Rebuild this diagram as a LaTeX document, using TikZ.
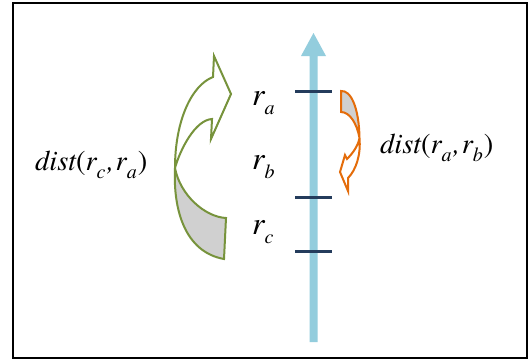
\documentclass[tikz,border=0pt]{standalone}
\usepackage{fontspec}
\newfontfamily\timesfam{texgyretermes}[Extension=.otf, UprightFont=*-regular, ItalicFont=*-italic, BoldFont=*-bold, BoldItalicFont=*-bolditalic]
\definecolor{axisblue}{HTML}{93CDDD}
\definecolor{tickblue}{HTML}{243C5C}
\definecolor{olivegreen}{HTML}{77933C}
\definecolor{darkorange}{HTML}{E46C0A}
\definecolor{greyfill}{HTML}{D0D0D0}
\newcommand\mysub[1]{\raisebox{-0.3em}{\fontsize{20}{20}\selectfont\timesfam\itshape #1}}
\begin{document}
\begin{tikzpicture}[x=1pt,y=-1pt,
  lbl/.style={inner sep=0pt, anchor=base west, font=\timesfam\fontsize{32}{32}\selectfont\itshape},
  distlbl/.style={inner sep=0pt, anchor=base west, font=\timesfam\fontsize{28.5}{28.5}\selectfont\itshape},
  tickline/.style={draw=tickblue, line width=3pt},
  greenarrow/.style={draw=olivegreen, line width=2pt, line join=miter},
  orangearrow/.style={draw=darkorange, line width=2pt, line join=miter}]
\useasboundingbox (0,0) rectangle (531,362);
\fill[white] (0,0) rectangle (531,362);
\draw[line width=2pt] (13,3) rectangle (527,358);
% axis arrow
\fill[axisblue] (309.5,342) -- (309.5,56) -- (301,56) -- (313.5,33) -- (326,56) -- (317.5,56) -- (317.5,342) -- cycle;
% ticks
\draw[tickline] (295,91) -- (332,91);
\draw[tickline] (295,197) -- (332,197);
\draw[tickline] (295,251) -- (332,251);
% labels
\node[lbl] (ra) at (252,105) {r\mysub{a}};
\node[lbl] (rb) at (252,169) {r\mysub{b}};
\node[lbl] (rc) at (252,234) {r\mysub{c}};
\node[distlbl] (dca) at (35,170) {dist{\upshape(}r\mysub{c}\kern1.5pt,\kern1.5pt r\mysub{a}\kern1pt{\upshape)}};
\node[distlbl] (dab) at (380,153) {dist{\upshape(}r\mysub{a}\kern1.5pt,\kern1.5pt r\mysub{b}\kern1pt{\upshape)}};
% green curved arrow
\fill[fill=greyfill] (175,168) .. controls (173,210) and (185,252) .. (224,259) -- (226,218) .. controls (205,217) and (180,195) .. (175,168) -- cycle;
\draw[greenarrow] (224,259) .. controls (185,252) and (173,210) .. (175,168)
  .. controls (175,120) and (192,85) .. (213,77) -- (214,56) -- (231,94) -- (211,139) -- (212,119)
  .. controls (195,120) and (180,150) .. (175,168)
  .. controls (180,195) and (205,217) .. (226,218) -- cycle;
% orange curved arrow
\fill[fill=greyfill] (341,91) .. controls (351,90) and (359,108) .. (359.5,138) .. controls (357,124) and (350,112) .. (341,112) -- cycle;
\draw[orangearrow] (341,91) .. controls (351,90) and (359,108) .. (359.5,138)
  .. controls (361,155) and (356,170) .. (348,178) -- (348,191) -- (340,172) -- (345,155) -- (347,159)
  .. controls (351,155) and (358,147) .. (359.5,138)
  .. controls (357,124) and (350,112) .. (341,112) -- cycle;
\end{tikzpicture}
\end{document}
